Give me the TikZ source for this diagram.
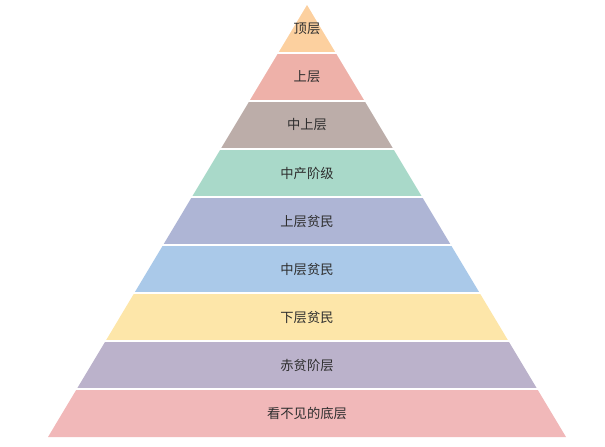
\documentclass[tikz,border=0pt]{standalone}
\usepackage{fontspec}
\newfontfamily\cjk{Noto Sans CJK SC}
\definecolor{c1}{HTML}{FCD09F}
\definecolor{c2}{HTML}{EEB1A9}
\definecolor{c3}{HTML}{BCADA9}
\definecolor{c4}{HTML}{A9D9C9}
\definecolor{c5}{HTML}{AEB5D5}
\definecolor{c6}{HTML}{AAC9E9}
\definecolor{c7}{HTML}{FDE6A9}
\definecolor{c8}{HTML}{BBB2CB}
\definecolor{c9}{HTML}{F1B8B9}
\definecolor{txt}{HTML}{2E2E2E}
\tikzset{lbl/.style={font=\cjk\fontsize{13.3}{15}\selectfont, text=txt, inner sep=0pt}}
\begin{document}
\begin{tikzpicture}[x=1pt,y=-1pt]
\useasboundingbox (0,0) rectangle (605,447);
\foreach \i/\c in {0/c1,1/c2,2/c3,3/c4,4/c5,5/c6,6/c7,7/c8,8/c9}{
  \pgfmathsetmacro{\ya}{5+48*\i}
  \pgfmathsetmacro{\yb}{5+48*(\i+1)}
  \pgfmathsetmacro{\wa}{48*\i*0.59954}
  \pgfmathsetmacro{\wb}{48*(\i+1)*0.59954}
  \fill[\c] (307-\wa,\ya) -- (307+\wa,\ya) -- (307+\wb,\yb) -- (307-\wb,\yb) -- cycle;
}
\foreach \i in {1,...,8}{
  \pgfmathsetmacro{\ya}{5+48*\i}
  \pgfmathsetmacro{\wa}{48*\i*0.59954+3}
  \draw[white, line width=1.6pt] (307-\wa,\ya) -- (307+\wa,\ya);
}
\node[lbl] (l1) at (307,29) {顶层};
\node[lbl] (l2) at (307,77) {上层};
\node[lbl] (l3) at (307,125) {中上层};
\node[lbl] (l4) at (307,173) {中产阶级};
\node[lbl] (l5) at (307,221) {上层贫民};
\node[lbl] (l6) at (307,269) {中层贫民};
\node[lbl] (l7) at (307,317) {下层贫民};
\node[lbl] (l8) at (307,365) {赤贫阶层};
\node[lbl] (l9) at (307,413) {看不见的底层};
\end{tikzpicture}
\end{document}
